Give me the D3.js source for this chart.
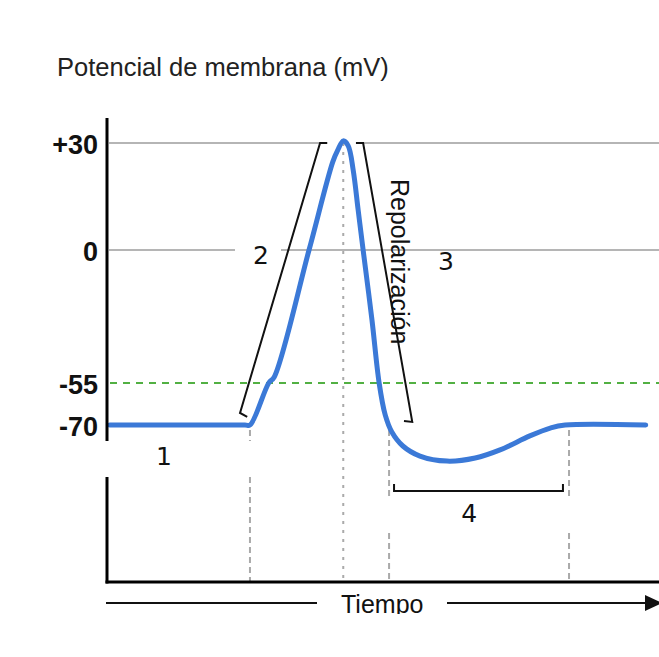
<!DOCTYPE html>
<html>
<head>
<meta charset="utf-8">
<script src="https://cdn.jsdelivr.net/npm/d3@7"></script>
<style>
  body { margin: 0; background: #fff; }
  svg { display: block; }
</style>
</head>
<body>
<script>
var width = 659,
    height = 657;

// Potencial de accion : temps (unites arbitraires) et potentiel (mV)
var tiempo = [0.5, 25.0, 25.9, 29.3, 30.3, 36.6, 40.9, 41.8, 42.8, 43.7, 44.6, 45.5, 46.4, 48.0, 49.3, 50.4, 51.6, 53.6, 56.7, 61.6, 66.7, 71.2, 76.6, 80.3, 83.0, 97.6];
var potencial = [-70, -70, -70, -55, -52.5, 0, 24.7, 28.0, 30.6, 29.2, 22.4, 11.2, 0, -28.9, -55, -66.4, -72.5, -77.5, -81.1, -82.9, -81.8, -78.9, -73.9, -71.1, -70, -70];

var yTicks = [30, 0, -55, -70];
var umbral = -55;
// instants des lignes verticales pointillees
var marcas = [25.9, 42.8, 51.1, 83.7];
var etiquetas = ["1", "2", "3", "4"];

var svg = d3.select("body")
    .append("svg")
    .attr("width", width)
    .attr("height", height);

var x = d3.scaleLinear().domain([0, 100]).range([107, 659]);
// echelle non lineaire comme sur le schema
var y = d3.scaleLinear().domain([-90, -70, -55, 0, 30]).range([481, 425, 383, 250, 143]);

var xAxisY = 582;

// Titre
svg.append("text")
    .attr("x", 57)
    .attr("y", 76)
    .style("font-family", "'Liberation Sans', Arial, sans-serif")
    .style("font-size", "25.5px")
    .style("fill", "#222")
    .text("Potencial de membrana (mV)");

// grille horizontale (+30 et 0)
var grid = [[109, x(38.6), 30], [x(46.4), width, 30], [109, 235, 0], [281, width, 0]];
grid.forEach(function (g) {
    svg.append("line")
        .attr("x1", g[0]).attr("x2", g[1])
        .attr("y1", y(g[2])).attr("y2", y(g[2]))
        .attr("stroke", "#b5b5b5").attr("stroke-width", 2);
});

// seuil
svg.append("line")
    .attr("x1", 110).attr("x2", width)
    .attr("y1", y(umbral)).attr("y2", y(umbral))
    .attr("stroke", "#52b043").attr("stroke-width", 2)
    .attr("stroke-dasharray", "7,6");

// lignes verticales
marcas.forEach(function (t, i) {
    var segs;
    if (i == 0) segs = [[430, 441], [477, xAxisY]];
    else if (i == 1) segs = [[y(30), xAxisY]];
    else segs = [[430, 497], [533, xAxisY]];
    segs.forEach(function (s) {
        svg.append("line")
            .attr("x1", x(t)).attr("x2", x(t))
            .attr("y1", s[0]).attr("y2", s[1])
            .attr("stroke", "#aaaaaa").attr("stroke-width", 2)
            .attr("stroke-dasharray", i == 1 ? "3,6" : "6,4");
    });
});

// courbe
var line = d3.line()
    .x(function (d) { return x(d[0]); })
    .y(function (d) { return y(d[1]); })
    .curve(d3.curveCatmullRom.alpha(0.5));

svg.append("path")
    .datum(d3.zip(tiempo, potencial))
    .attr("d", line)
    .attr("fill", "none")
    .attr("stroke", "#3b79d7")
    .attr("stroke-width", 5)
    .attr("stroke-linecap", "round")
    .attr("stroke-linejoin", "round");

// crochets
var brackets = [
    [[25.4, -67.1], [24.1, -65.7], [38.6, 30], [39.9, 30]],
    [[45.1, 30], [46.4, 30], [55.3, -68.9], [53.8, -68.6]],
    [[52.0, -91.1], [52.0, -93.6], [82.6, -93.6], [82.6, -91.1]]
];
brackets.forEach(function (b) {
    svg.append("path")
        .attr("d", d3.line().x(d => x(d[0])).y(d => y(d[1]))(b))
        .attr("fill", "none")
        .attr("stroke", "#111")
        .attr("stroke-width", 2);
});

// axes
svg.append("line")
    .attr("x1", 107).attr("x2", 107)
    .attr("y1", 118).attr("y2", 441)
    .attr("stroke", "#000").attr("stroke-width", 3);
svg.append("line")
    .attr("x1", 107).attr("x2", 107)
    .attr("y1", 477).attr("y2", xAxisY + 1.5)
    .attr("stroke", "#000").attr("stroke-width", 3);
svg.append("line")
    .attr("x1", 105.5).attr("x2", width)
    .attr("y1", xAxisY).attr("y2", xAxisY)
    .attr("stroke", "#000").attr("stroke-width", 3);

var yAxis = svg.append("g")
    .attr("transform", "translate(107,0)")
    .call(d3.axisLeft(y).tickValues(yTicks).tickSize(0).tickPadding(9)
        .tickFormat(function (d) { return d > 0 ? "+" + d : d; }));
yAxis.select(".domain").remove();
yAxis.selectAll("text")
    .attr("dy", "0.38em")
    .style("font-family", "'Liberation Sans', Arial, sans-serif")
    .style("font-size", "27px")
    .style("font-weight", "bold")
    .style("fill", "#111");

// etiquettes des phases
var posEtiquetas = [[10.3, -84.3], [27.9, -5.6], [61.4, -8.4], [65.6, -104.6]];
etiquetas.forEach(function (e, i) {
    svg.append("text")
        .attr("x", x(posEtiquetas[i][0]))
        .attr("y", y(posEtiquetas[i][1]))
        .attr("text-anchor", "middle")
        .style("font-family", "'DejaVu Sans', sans-serif")
        .style("font-size", "25px")
        .style("fill", "#111")
        .text(e);
});

svg.append("text")
    .attr("transform", "translate(391,179) rotate(90)")
    .style("font-family", "'Liberation Sans', Arial, sans-serif")
    .style("font-size", "25px")
    .style("fill", "#111")
    .text("Repolarización");

// fleche du temps
svg.append("line")
    .attr("x1", 106).attr("x2", 317)
    .attr("y1", 603).attr("y2", 603)
    .attr("stroke", "#111").attr("stroke-width", 2);
svg.append("line")
    .attr("x1", 447).attr("x2", 648)
    .attr("y1", 603).attr("y2", 603)
    .attr("stroke", "#111").attr("stroke-width", 2);
svg.append("path")
    .attr("d", "M645,595 L662,603 L645,611 Z")
    .attr("fill", "#111");

svg.append("text")
    .attr("x", 341)
    .attr("y", 613)
    .style("font-family", "'Liberation Sans', Arial, sans-serif")
    .style("font-size", "25px")
    .style("fill", "#111")
    .text("Tiempo");

// l'image d'origine est coupee sous le texte
svg.append("rect")
    .attr("x", 0).attr("y", 614)
    .attr("width", width).attr("height", height - 614)
    .attr("fill", "#fff");
</script>
</body>
</html>
